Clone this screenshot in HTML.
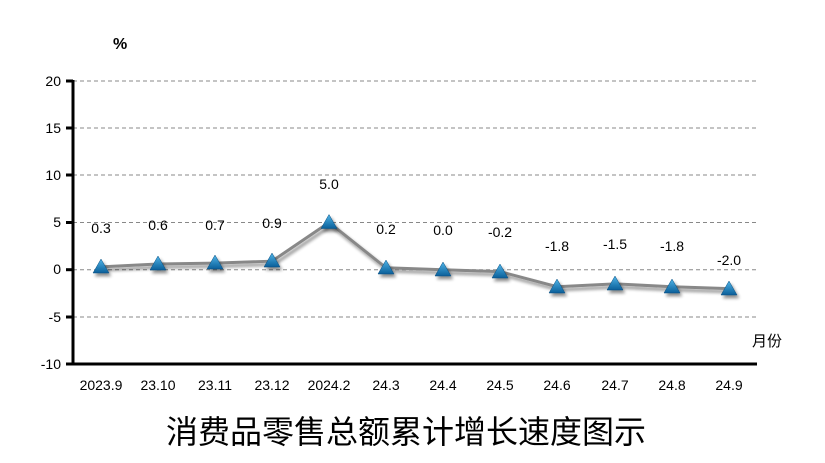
<!DOCTYPE html>
<html><head><meta charset="utf-8"><style>
body{margin:0;background:#fff;}
svg{display:block;font-family:"Liberation Sans","Noto Sans CJK SC",sans-serif;}
</style></head><body>
<svg width="825" height="463" viewBox="0 0 825 463">
<defs>
<linearGradient id="tg" x1="0" y1="0" x2="0" y2="1"><stop offset="0" stop-color="#4fb4e8"/><stop offset="1" stop-color="#0a5f99"/></linearGradient>
<filter id="sh" x="-20%" y="-20%" width="150%" height="180%"><feGaussianBlur in="SourceAlpha" stdDeviation="1.5"/><feOffset dx="2" dy="3"/><feComponentTransfer><feFuncA type="linear" slope="0.45"/></feComponentTransfer><feMerge><feMergeNode/><feMergeNode in="SourceGraphic"/></feMerge></filter>
</defs>
<g stroke="#888" stroke-dasharray="4,3" stroke-width="1">
<line x1="73" y1="81" x2="757" y2="81"/><line x1="73" y1="128" x2="757" y2="128"/><line x1="73" y1="175" x2="757" y2="175"/><line x1="73" y1="222.5" x2="757" y2="222.5"/><line x1="73" y1="269.7" x2="757" y2="269.7"/><line x1="73" y1="317" x2="757" y2="317"/>
</g>
<g stroke="#000" stroke-width="3">
<line x1="73" y1="80" x2="73" y2="365"/><line x1="66" y1="364" x2="757" y2="364"/>
<line x1="66" y1="81" x2="73" y2="81"/><line x1="66" y1="128" x2="73" y2="128"/><line x1="66" y1="175" x2="73" y2="175"/><line x1="66" y1="222.5" x2="73" y2="222.5"/><line x1="66" y1="269.7" x2="73" y2="269.7"/><line x1="66" y1="317" x2="73" y2="317"/>
</g>
<g font-size="14" text-anchor="end" fill="#000">
<text x="61" y="86">20</text><text x="61" y="133">15</text><text x="61" y="180">10</text><text x="61" y="227">5</text><text x="61" y="274">0</text><text x="61" y="322">-5</text><text x="61" y="369">-10</text>
</g>
<text x="113" y="49" font-size="16" font-weight="bold">%</text>
<text x="752" y="346" font-size="15">月份</text>
<g font-size="14" text-anchor="middle">
<text x="101" y="390">2023.9</text><text x="158" y="390">23.10</text><text x="215" y="390">23.11</text><text x="272" y="390">23.12</text><text x="329" y="390">2024.2</text><text x="386" y="390">24.3</text><text x="443" y="390">24.4</text><text x="500" y="390">24.5</text><text x="557" y="390">24.6</text><text x="615" y="390">24.7</text><text x="672" y="390">24.8</text><text x="729" y="390">24.9</text>
</g>
<polyline filter="url(#sh)" fill="none" stroke="#888" stroke-width="3" points="101,266.9 158,264.0 215,263.1 272,261.2 329,222.5 386,267.8 443,269.7 500,271.6 557,286.7 615,283.9 672,286.7 729,288.6"/>
<g fill="url(#tg)" filter="url(#sh)" stroke="#0a4f80" stroke-width="0.5">
<path d="M101,259 l-8,14 h16z"/><path d="M158,256 l-8,14 h16z"/><path d="M215,255 l-8,14 h16z"/><path d="M272,253 l-8,14 h16z"/><path d="M329,214.5 l-8,14 h16z"/><path d="M386,260 l-8,14 h16z"/><path d="M443,262 l-8,14 h16z"/><path d="M500,264 l-8,14 h16z"/><path d="M557,279 l-8,14 h16z"/><path d="M615,276 l-8,14 h16z"/><path d="M672,279 l-8,14 h16z"/><path d="M729,281 l-8,14 h16z"/>
</g>
<g font-size="14" text-anchor="middle">
<text x="101" y="233">0.3</text><text x="158" y="230">0.6</text><text x="215" y="230">0.7</text><text x="272" y="228">0.9</text><text x="329" y="189">5.0</text><text x="386" y="234">0.2</text><text x="443" y="235">0.0</text><text x="500" y="237">-0.2</text><text x="557" y="251">-1.8</text><text x="615" y="249">-1.5</text><text x="672" y="251">-1.8</text><text x="729" y="265">-2.0</text>
</g>
<text x="406" y="443" font-size="32" text-anchor="middle" font-family="'Noto Sans CJK SC',sans-serif">消费品零售总额累计增长速度图示</text>
</svg>
</body></html>
